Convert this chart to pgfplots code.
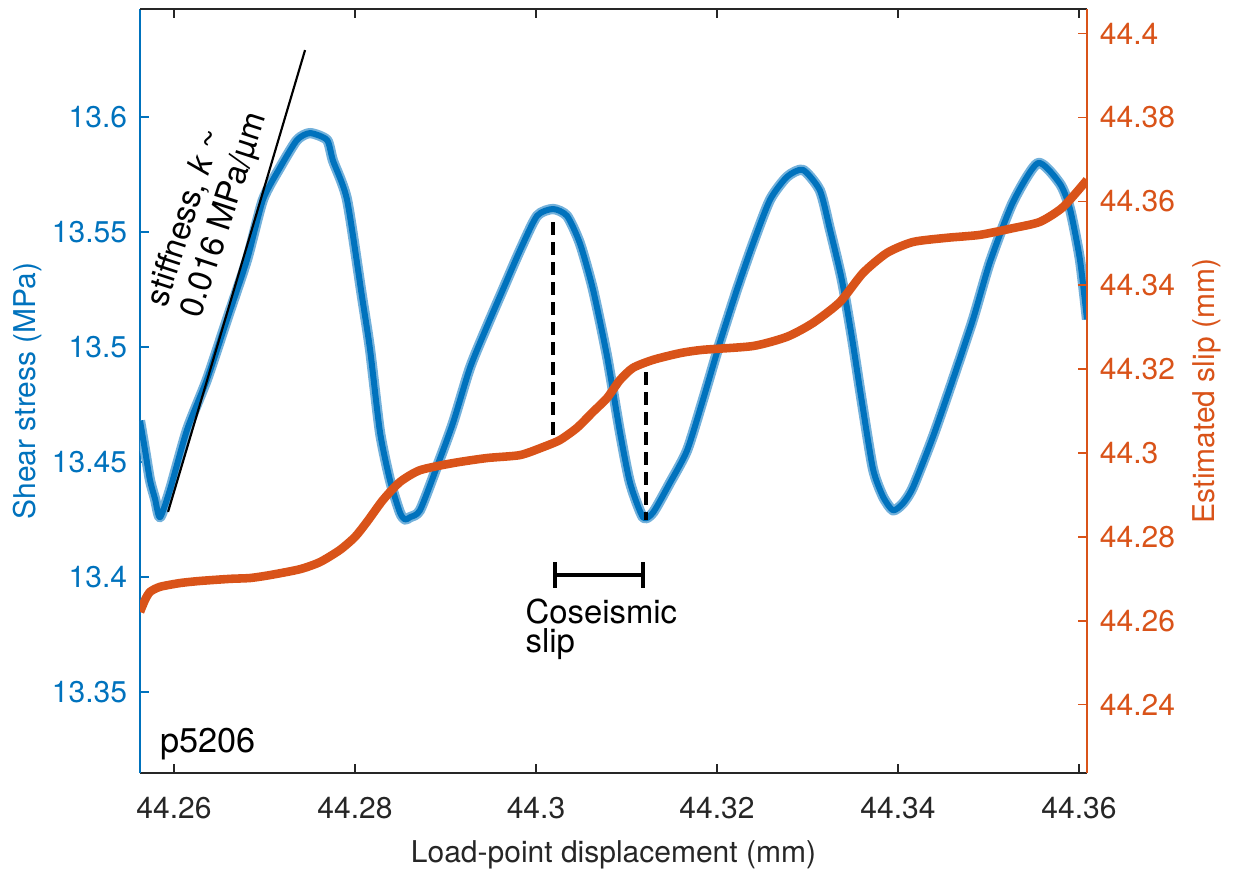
\documentclass[border=0pt]{standalone}
\usepackage{fontspec}
\setmainfont{TeX Gyre Heros}
\usepackage{pgfplots}
\usepackage{pgfplotstable}
\pgfplotsset{compat=1.18}
\usetikzlibrary{arrows.meta}
\definecolor{matblue}{RGB}{0,114,189}
\definecolor{matorange}{RGB}{217,83,25}
\definecolor{axgray}{RGB}{38,38,38}

\pgfplotstableread{
x y
44.25624 13.468
44.25680 13.455
44.25735 13.442
44.25790 13.434
44.25845 13.426
44.25956 13.438
44.26144 13.464
44.26365 13.486
44.26586 13.512
44.26807 13.538
44.26983 13.564
44.27171 13.578
44.27359 13.590
44.27503 13.593
44.27691 13.590
44.27757 13.581
44.27912 13.564
44.28077 13.522
44.28166 13.499
44.28276 13.463
44.28387 13.442
44.28497 13.428
44.28553 13.425
44.28608 13.426
44.28718 13.429
44.28906 13.448
44.29083 13.467
44.29271 13.491
44.29459 13.509
44.29635 13.525
44.29823 13.542
44.30011 13.557
44.30188 13.560
44.30343 13.557
44.30486 13.545
44.30630 13.525
44.30785 13.496
44.30928 13.463
44.31039 13.441
44.31182 13.426
44.31293 13.428
44.31481 13.441
44.31669 13.455
44.31845 13.477
44.32033 13.502
44.32221 13.525
44.32398 13.545
44.32586 13.564
44.32774 13.574
44.32950 13.577
44.33138 13.568
44.33249 13.551
44.33381 13.529
44.33492 13.504
44.33602 13.476
44.33724 13.447
44.33834 13.435
44.33945 13.429
44.34055 13.432
44.34166 13.439
44.34387 13.461
44.34608 13.486
44.34829 13.512
44.35017 13.537
44.35271 13.563
44.35547 13.580
44.35790 13.571
44.35901 13.560
44.36011 13.538
44.36089 13.512
}\bluedata

\pgfplotstableread{
x y
44.25624 44.2621
44.25680 44.2650
44.25735 44.2669
44.25845 44.2681
44.26066 44.2690
44.26287 44.2695
44.26619 44.2700
44.26840 44.2702
44.27061 44.2709
44.27392 44.2723
44.27613 44.2740
44.27834 44.2769
44.28000 44.2800
44.28133 44.2836
44.28309 44.2888
44.28497 44.2931
44.28718 44.2959
44.29083 44.2976
44.29459 44.2988
44.29823 44.2995
44.30077 44.3014
44.30265 44.3031
44.30453 44.3060
44.30630 44.3098
44.30785 44.3131
44.30928 44.3174
44.31072 44.3203
44.31293 44.3222
44.31591 44.3238
44.31845 44.3246
44.32398 44.3255
44.32774 44.3277
44.33061 44.3310
44.33359 44.3360
44.33613 44.3429
44.33879 44.3477
44.34166 44.3503
44.34542 44.3513
44.34906 44.3520
44.35271 44.3536
44.35569 44.3551
44.35823 44.3586
44.36089 44.3651
}\orangedata

\begin{document}
\begin{tikzpicture}
\pgfplotsset{
  common/.style={
    scale only axis, width=331.45pt, height=267.4pt,
    xmin=44.25624, xmax=44.36089,
    xtick={44.26,44.28,44.3,44.32,44.34,44.36},
    scaled ticks=false,
    tick align=inside,
    major tick length=3.2pt,
    /pgf/number format/assume math mode=true,
    /pgf/number format/fixed,
    /pgf/number format/precision=2,
    tick label style={font=\fontsize{10.5}{12}\selectfont},
  }
}
\begin{axis}[common, name=main,
  ymin=13.31478, ymax=13.64696,
  ytick={13.35,13.4,13.45,13.5,13.55,13.6},
  axis x line*=bottom, axis y line*=left,
  x axis line style={-, draw=axgray, line width=0.5pt},
  y axis line style={-, draw=matblue, line width=0.5pt},
  x tick style={axgray, line width=0.5pt},
  y tick style={matblue, line width=0.5pt},
  xticklabel style={text=axgray, yshift=-5pt},
  yticklabel style={text=matblue, xshift=-1pt},
  xlabel={Load-point displacement (mm)},
  ylabel={Shear stress (MPa)},
  every axis x label/.style={at={([yshift=-20pt]axis description cs:0.5,0)}, anchor=north, text=axgray, font=\fontsize{10.5}{12}\selectfont},
  every axis y label/.style={at={([xshift=-30.8pt]axis description cs:0,0.5)}, rotate=90, anchor=south, text=matblue, font=\fontsize{10.5}{12}\selectfont},
]
\addplot[matblue!55!white, line width=3.6pt, line join=round, smooth, tension=0.4] table[x=x,y=y] {\bluedata};
\addplot[matblue, line width=2.1pt, line join=round, smooth, tension=0.4] table[x=x,y=y] {\bluedata};
\addplot[black, line width=0.75pt] coordinates {(44.25934,13.4283) (44.27448,13.6291)};
\addplot[black, line width=1.4pt, dash pattern=on 4.5pt off 2.5pt] coordinates {(44.3019,13.5543) (44.3019,13.4596)};
\addplot[black, line width=1.4pt, dash pattern=on 4.5pt off 2.5pt] coordinates {(44.31216,13.4891) (44.31216,13.4248)};
\addplot[black, line width=1.4pt, {Bar[width=9pt]}-{Bar[width=9pt]}] coordinates {(44.30188,13.4009) (44.31205,13.4009)};
\node[anchor=north west, inner sep=0pt, align=left, font=\fontsize{11.5}{10.3}\selectfont] at (axis cs:44.29879,13.3909) {Coseismic\\slip};
\node[anchor=base west, inner sep=0pt, font=\fontsize{12}{14}\selectfont] at (axis cs:44.25845,13.3239) {p5206};
\node[rotate=72, align=left, inner sep=0pt, font=\fontsize{11.5}{12.6}\selectfont] at (axis cs:44.26376,13.5596) {stiffness, \textit{k} \textasciitilde\\0.016 MPa/µm};
\end{axis}
\begin{axis}[common,
  ymin=44.22372, ymax=44.40584,
  ytick={44.24,44.26,44.28,44.3,44.32,44.34,44.36,44.38,44.4},
  axis x line*=top, axis y line*=right,
  xticklabels={},
  x axis line style={-, draw=axgray, line width=0.5pt},
  y axis line style={-, draw=matorange, line width=0.5pt},
  x tick style={axgray, line width=0.5pt},
  y tick style={matorange, line width=0.5pt},
  yticklabel style={text=matorange, xshift=1pt},
  ylabel={Estimated slip (mm)},
  every axis y label/.style={at={([xshift=33.6pt]axis description cs:1,0.5)}, rotate=90, anchor=north, text=matorange, font=\fontsize{10.5}{12}\selectfont},
]
\addplot[matorange, line width=3.0pt, line join=round, smooth, tension=0.4] table[x=x,y=y] {\orangedata};
\end{axis}
\pgfresetboundingbox
\useasboundingbox ([shift={(-49pt,-34.65pt)}]main.south west) rectangle ([shift={(52.85pt,3.15pt)}]main.north east);
\end{tikzpicture}
\end{document}
